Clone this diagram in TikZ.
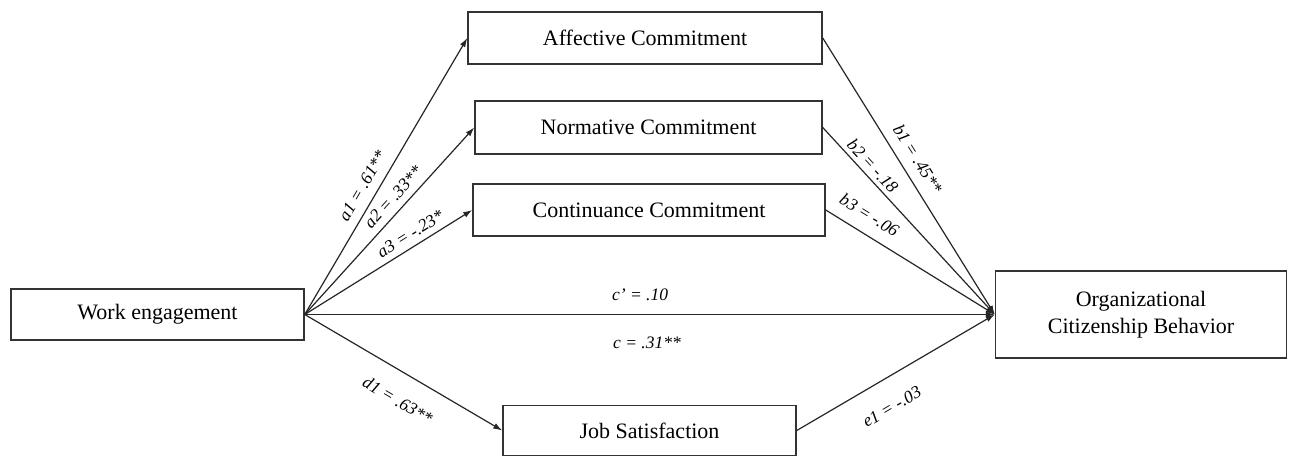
\documentclass[tikz,border=0pt]{standalone}
\usepackage{fontspec}
\setmainfont{Liberation Serif}
\usetikzlibrary{arrows.meta}
\begin{document}
\begin{tikzpicture}[x=1pt,y=-1pt,
  box/.style={draw=black!80, line width=1.5pt, fill=white, inner sep=0pt, font=\fontsize{22}{27}\selectfont, align=center},
  conn/.style={line width=1.2pt, draw=black!85, -{Latex[length=9pt,width=6pt]}},
  lab/.style={font=\fontsize{17.5}{20}\selectfont\itshape, inner sep=0pt, sloped}]
\useasboundingbox[fill=white] (0,0) rectangle (1289,458);
\node[box, minimum width=354pt, minimum height=52pt] (aff) at (645,38) {Affective Commitment};
\node[box, minimum width=347pt, minimum height=53pt] (nor) at (648.5,127.5) {Normative Commitment};
\node[box, minimum width=352pt, minimum height=52pt] (con) at (649,210) {Continuance Commitment};
\node[box, minimum width=293pt, minimum height=51pt] (we) at (157.5,314.5) {Work engagement};
\node[box, minimum width=291pt, minimum height=87pt] (ocb) at (1141,314.5) {Organizational\\Citizenship Behavior};
\node[box, minimum width=293pt, minimum height=50pt] (js) at (649.5,430.5) {Job Satisfaction};

\draw[conn] (we.east) -- (aff.west) node[lab, pos=0.437, above=9pt] {a1 = .61**};
\draw[conn] (we.east) -- (nor.west) node[lab, pos=0.58, above=7pt] {a2 = .33**};
\draw[conn] (we.east) -- (con.west) node[lab, pos=0.67, above=6pt] {a3 = -.23*};
\draw[conn] (we.east) -- (js.west) node[lab, pos=0.54, below=20pt] {d1 = .63**};
\draw[conn] (we.east) -- (ocb.west)
  node[lab, pos=0.486, above=13pt] {c’ = .10}
  node[lab, pos=0.496, below=22pt] {c = .31**};
\draw[conn] (aff.east) -- (ocb.west) node[lab, pos=0.47, above=10pt] {b1 = .45**};
\draw[conn] (nor.east) -- (ocb.west) node[lab, pos=0.245, above=4pt] {b2 = -.18};
\draw[conn] (con.east) -- (ocb.west) node[lab, pos=0.2, above=12pt] {b3 = -.06};
\draw[conn] (js.east) -- (ocb.west) node[lab, pos=0.41, below=21pt] {e1 = -.03};
\end{tikzpicture}
\end{document}
